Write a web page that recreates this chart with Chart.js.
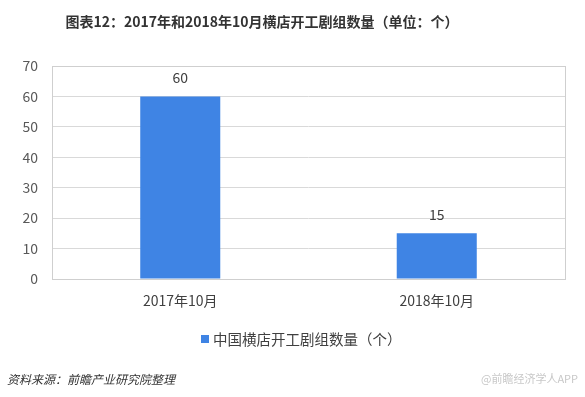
<!DOCTYPE html>
<html><head><meta charset="utf-8">
<script src="https://cdn.jsdelivr.net/npm/chart.js@4"></script>
<style>html,body{margin:0;padding:0;background:#fff}#wrap{width:585px;height:397px;position:relative}</style>
</head><body><div id="wrap"><canvas id="c" width="585" height="397"></canvas></div>
<script>
const categories = ['2017年10月', '2018年10月'];
const seriesName = '中国横店开工剧组数量（个）';
const values = [60, 15];
const yTicks = [0, 10, 20, 30, 40, 50, 60, 70];
const titleText = '图表12：2017年和2018年10月横店开工剧组数量（单位：个）';
const sourceText = '资料来源：前瞻产业研究院整理';
const markText = '@前瞻经济学人APP';

const FONT = '"Noto Sans CJK SC", "Noto Sans", sans-serif';
const BAR = '#3f84e4';

const decor = {
  id: 'decor',
  afterDraw(chart) {
    const ctx = chart.ctx, a = chart.chartArea;
    ctx.save();
    ctx.strokeStyle = '#cfcfcf';
    ctx.lineWidth = 1;
    ctx.strokeRect(Math.round(a.left) + 0.5, Math.round(a.top) + 0.5, Math.round(a.right - a.left), Math.round(a.bottom - a.top));
    ctx.fillStyle = '#333333';
    ctx.font = 'bold 14px ' + FONT;
    ctx.textAlign = 'center';
    ctx.textBaseline = 'middle';
    ctx.fillText(titleText, 262, 22);
    const meta = chart.getDatasetMeta(0);
    ctx.font = '14px ' + FONT;
    ctx.fillStyle = '#404040';
    meta.data.forEach((el, i) => {
      ctx.fillText(String(values[i]), el.x, el.y - 19);
    });
    ctx.fillStyle = BAR;
    ctx.fillRect(201, 335, 8, 8);
    ctx.fillStyle = '#404040';
    ctx.font = '14.5px ' + FONT;
    ctx.textAlign = 'left';
    ctx.fillText(seriesName, 213, 339);
    ctx.font = 'italic 12px ' + FONT;
    ctx.fillStyle = '#333333';
    ctx.fillText(sourceText, 7, 379);
    ctx.font = '11px ' + FONT;
    ctx.fillStyle = '#c8c8c8';
    ctx.textAlign = 'right';
    ctx.fillText(markText, 578, 379);
    ctx.restore();
  }
};

new Chart(document.getElementById('c'), {
  type: 'bar',
  data: {
    labels: categories,
    datasets: [{
      label: seriesName,
      data: values,
      backgroundColor: BAR,
      categoryPercentage: 1,
      barPercentage: 0.312
    }]
  },
  options: {
    responsive: false,
    animation: false,
    devicePixelRatio: 1,
    layout: { padding: { left: 0, top: 66, right: 20, bottom: 0 } },
    plugins: { legend: { display: false }, title: { display: false }, tooltip: { enabled: false } },
    scales: {
      x: {
        grid: { display: false, drawTicks: false },
        border: { display: false },
        ticks: { color: '#404040', font: { family: FONT, size: 14 }, padding: 13 },
        afterFit(s) { s.height = 118; }
      },
      y: {
        min: 0, max: 70,
        afterBuildTicks(s) { s.ticks = yTicks.map(v => ({ value: v })); },
        grid: { color: '#d9d9d9', drawTicks: false },
        border: { display: false },
        ticks: { color: '#595959', font: { family: FONT, size: 14 }, padding: 14 },
        afterFit(s) { s.width = 52; }
      }
    }
  },
  plugins: [decor]
});
</script>
</body></html>
